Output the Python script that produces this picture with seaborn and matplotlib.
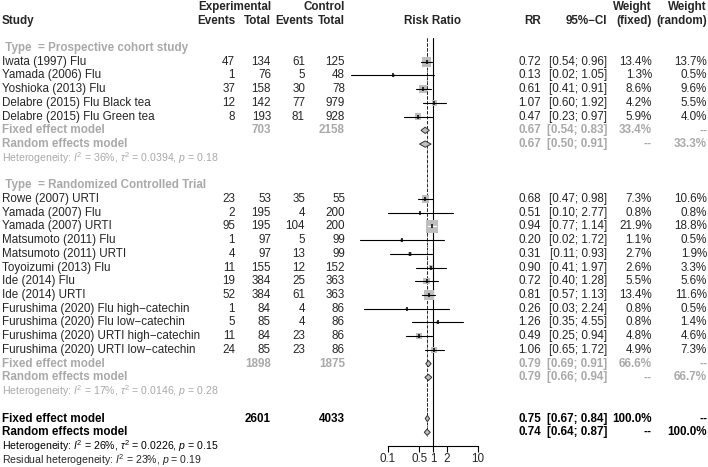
import matplotlib
matplotlib.use("Agg")
import matplotlib.pyplot as plt
import matplotlib.transforms as mtransforms
from matplotlib.patches import Polygon
import numpy as np
import pandas as pd
import seaborn as sns

# --- study level data ---
group_names = ["Prospective cohort study", "Randomized Controlled Trial"]
group = ["Prospective cohort study"] * 5 + ["Randomized Controlled Trial"] * 12
study = [
    "Iwata (1997) Flu",
    "Yamada (2006) Flu",
    "Yoshioka (2013) Flu",
    "Delabre (2015) Flu Black tea",
    "Delabre (2015) Flu Green tea",
    "Rowe (2007) URTI",
    "Yamada (2007) Flu",
    "Yamada (2007) URTI",
    "Matsumoto (2011) Flu",
    "Matsumoto (2011) URTI",
    "Toyoizumi (2013) Flu",
    "Ide (2014) Flu",
    "Ide (2014) URTI",
    "Furushima (2020) Flu high\u2212catechin",
    "Furushima (2020) Flu low\u2212catechin",
    "Furushima (2020) URTI high\u2212catechin",
    "Furushima (2020) URTI low\u2212catechin",
]
exp_events = [47, 1, 37, 12, 8, 23, 2, 95, 1, 4, 11, 19, 52, 1, 5, 11, 24]
exp_total = [134, 76, 158, 142, 193, 53, 195, 195, 97, 97, 155, 384, 384, 84, 85, 84, 85]
ctrl_events = [61, 5, 30, 77, 81, 35, 4, 104, 5, 13, 12, 25, 61, 4, 4, 23, 23]
ctrl_total = [125, 48, 78, 979, 928, 55, 200, 200, 99, 99, 152, 363, 363, 86, 86, 86, 86]
rr = [0.72, 0.13, 0.61, 1.07, 0.47, 0.68, 0.51, 0.94, 0.20, 0.31, 0.90, 0.72, 0.81, 0.26, 1.26, 0.49, 1.06]
ci_lo = [0.54, 0.0152, 0.41, 0.60, 0.23, 0.47, 0.10, 0.77, 0.0243, 0.11, 0.41, 0.40, 0.57, 0.0292, 0.35, 0.25, 0.65]
ci_hi = [0.96, 1.05, 0.91, 1.92, 0.97, 0.98, 2.77, 1.14, 1.72, 0.93, 1.97, 1.28, 1.13, 2.24, 4.55, 0.94, 1.72]
w_fixed = [13.4, 1.3, 8.6, 4.2, 5.9, 7.3, 0.8, 21.9, 1.1, 2.7, 2.6, 5.5, 13.4, 0.8, 0.8, 4.8, 4.9]
w_random = [13.7, 0.5, 9.6, 5.5, 4.0, 10.6, 0.8, 18.8, 0.5, 1.9, 3.3, 5.6, 11.6, 0.5, 1.4, 4.6, 7.3]

# --- subgroup summaries ---
sub_exp_total = [703, 1898]
sub_ctrl_total = [2158, 1875]
sub_fixed = [(0.67, 0.54, 0.83), (0.79, 0.69, 0.91)]
sub_random = [(0.67, 0.50, 0.91), (0.79, 0.66, 0.94)]
sub_w_fixed = [33.4, 66.6]
sub_w_random = [33.3, 66.7]
sub_het = [(36, "0.0394", "0.18"), (17, "0.0146", "0.28")]

# --- overall ---
all_exp_total = 2601
all_ctrl_total = 4033
all_fixed = (0.75, 0.67, 0.84)
all_random = (0.74, 0.64, 0.87)
all_het = (26, "0.0226", "0.15")
resid_het = (23, "0.19")

x_ticks = [0.1, 0.5, 1, 2, 10]
x_ticklabels = ["0.1", "0.5", "1", "2", "10"]

GREY_TXT = "#A9A9A9"
GREY_BOX = "#BEBEBE"
DASH = "--"

sns.set_style("white")
plt.rcParams["font.family"] = ["Liberation Sans", "DejaVu Sans"]
plt.rcParams["mathtext.fontset"] = "custom"
plt.rcParams["mathtext.rm"] = "Liberation Sans"
plt.rcParams["mathtext.it"] = "Liberation Sans:italic"
plt.rcParams["mathtext.bf"] = "Liberation Sans:bold"

W, H = 708, 467
FS = 8.35
FS_HET = 7.6
TOP_PX, BOT_PX = 38.4, 446.0
ROW_TOP, ROW_BOT = -0.7, 29.0

fig = plt.figure(figsize=(W / 100, H / 100), dpi=100)
ax = fig.add_axes([388 / W, 1 - BOT_PX / H, 90 / W, (BOT_PX - TOP_PX) / H])

# row layout
study_row = [0] * len(study)
label_row, fixed_row, random_row, het_row = [], [], [], []
r = 0
for g in group_names:
    label_row.append(r)
    r += 1
    for i, gg in enumerate(group):
        if gg == g:
            study_row[i] = r
            r += 1
    fixed_row.append(r)
    random_row.append(r + 1)
    het_row.append(r + 2)
    r += 4
all_fixed_row, all_random_row, all_het_row, resid_row = r, r + 1, r + 2, r + 3

df = pd.DataFrame(
    {"study": study, "rr": rr, "lo": ci_lo, "hi": ci_hi, "w": w_fixed, "row": study_row}
)

# squares, area proportional to fixed weight
s_max = 80
wmin, wmax = min(w_fixed), max(w_fixed)
sns.scatterplot(
    data=df, x="rr", y="row", size="w",
    sizes=(s_max * wmin / wmax, s_max), size_norm=(wmin, wmax),
    marker="s", color=GREY_BOX, linewidth=0, legend=False, ax=ax,
    clip_on=False, zorder=2,
)

# confidence intervals (white when hidden inside the square)
for _, d in df.iterrows():
    half = 12.4 * np.sqrt(d.w / wmax) / 2 / 45
    inside = (np.log10(d.hi / d.rr) <= half) and (np.log10(d.rr / d.lo) <= half)
    ax.plot([d.lo, d.hi], [d.row, d.row], color="white" if inside else "black",
            lw=0.8, clip_on=False, zorder=3)
ax.plot(df["rr"], df["row"], ls="none", marker="|", ms=3, mew=1.1,
        color="black", clip_on=False, zorder=4)


def diamond(est, lo, hi, y, h=0.23):
    ax.add_patch(Polygon([(lo, y), (est, y - h), (hi, y), (est, y + h)], closed=True,
                         fc=GREY_BOX, ec="#333333", lw=0.7, clip_on=False, zorder=3))


for k in range(len(group_names)):
    diamond(*sub_fixed[k], fixed_row[k])
    diamond(*sub_random[k], random_row[k])
diamond(*all_fixed, all_fixed_row)
diamond(*all_random, all_random_row)

ax.axvline(1, color="black", lw=0.8, zorder=1)
ax.plot([all_fixed[0]] * 2, [ROW_TOP, all_random_row + 0.3], color="#222222", lw=0.7,
        ls=(0, (3, 2)), zorder=1, clip_on=False)
ax.plot([all_random[0]] * 2, [ROW_TOP, all_random_row + 0.3], color="#222222", lw=0.6,
        ls=(0, (1, 2)), zorder=1, clip_on=False)

ax.set_xscale("log")
ax.set_xlim(0.1, 10)
ax.set_ylim(ROW_BOT, ROW_TOP)
ax.set_xticks(x_ticks)
ax.set_xticklabels(x_ticklabels)
ax.minorticks_off()
ax.set_yticks([])
ax.set_xlabel("")
ax.set_ylabel("")
for side in ["left", "right", "top"]:
    ax.spines[side].set_visible(False)
ax.spines["bottom"].set_color("black")
ax.spines["bottom"].set_linewidth(0.8)
ax.tick_params(axis="x", direction="out", length=4, width=0.8, color="black",
               labelsize=FS, pad=1, bottom=True)
ax.patch.set_alpha(0)

# --- text table ---
trans = mtransforms.blended_transform_factory(fig.transFigure, ax.transData)


def put(xpx, row, s, ha="right", size=FS, **kw):
    ax.text(xpx / W, row, s, transform=trans, ha=ha, va="center", fontsize=size,
            clip_on=False, **kw)


X_STUDY, X_EE, X_ET, X_CE, X_CT = 2, 235, 271, 305, 345
X_RR, X_CI, X_WF, X_WR = 541, 607, 652, 707

hdr = dict(fontweight="bold")
put(X_ET, -3, "Experimental", **hdr)
put(X_CT, -3, "Control", **hdr)
put(X_WF, -3, "Weight", **hdr)
put(X_WR, -3, "Weight", **hdr)
put(X_STUDY, -2, "Study", ha="left", **hdr)
put(X_EE + 1, -2, "Events", **hdr)
put(X_ET, -2, "Total", **hdr)
put(X_CE + 8, -2, "Events", **hdr)
put(X_CT, -2, "Total", **hdr)
put(433, -2, "Risk Ratio", ha="center", **hdr)
put(X_RR, -2, "RR", **hdr)
put(X_CI, -2, "95%\u2212CI", **hdr)
put(X_WF, -2, "(fixed)", **hdr)
put(X_WR, -2, "(random)", **hdr)

for i in range(len(study)):
    y = study_row[i]
    put(X_STUDY, y, study[i], ha="left")
    put(X_EE, y, str(exp_events[i]))
    put(X_ET, y, str(exp_total[i]))
    put(X_CE, y, str(ctrl_events[i]))
    put(X_CT, y, str(ctrl_total[i]))
    put(X_RR, y, f"{rr[i]:.2f}")
    put(X_CI, y, f"[{ci_lo[i]:.2f}; {ci_hi[i]:.2f}]")
    put(X_WF, y, f"{w_fixed[i]:.1f}%")
    put(X_WR, y, f"{w_random[i]:.1f}%")


def summary_rows(yf, yr, tot_e, tot_c, fx, rd, wf, wr, color, het, het_color):
    b = dict(fontweight="bold", color=color)
    put(X_STUDY, yf, "Fixed effect model", ha="left", **b)
    put(X_STUDY, yr, "Random effects model", ha="left", **b)
    put(X_ET, yf, str(tot_e), **b)
    put(X_CT, yf, str(tot_c), **b)
    for y, (est, lo, hi) in [(yf, fx), (yr, rd)]:
        put(X_RR, y, f"{est:.2f}", **b)
        put(X_CI, y, f"[{lo:.2f}; {hi:.2f}]", **b)
    put(X_WF, yf, wf, **b)
    put(X_WR, yf, DASH, **b)
    put(X_WF, yr, DASH, **b)
    put(X_WR, yr, wr, **b)
    i2, tau2, p = het
    put(X_STUDY, yr + 1,
        rf"Heterogeneity: $I^2$ = {i2}%, $\tau^2$ = {tau2}, $p$ = {p}",
        ha="left", size=FS_HET, color=het_color)


for k, g in enumerate(group_names):
    put(X_STUDY, label_row[k], f" Type  = {g}", ha="left", fontweight="bold",
        color=GREY_TXT)
    summary_rows(fixed_row[k], random_row[k], sub_exp_total[k], sub_ctrl_total[k],
                 sub_fixed[k], sub_random[k], f"{sub_w_fixed[k]:.1f}%",
                 f"{sub_w_random[k]:.1f}%", GREY_TXT, sub_het[k], GREY_TXT)

summary_rows(all_fixed_row, all_random_row, all_exp_total, all_ctrl_total,
             all_fixed, all_random, "100.0%", "100.0%", "black", all_het, "black")
put(X_STUDY, resid_row,
    rf"Residual heterogeneity: $I^2$ = {resid_het[0]}%, $p$ = {resid_het[1]}",
    ha="left", size=FS_HET)

fig.savefig("out.png", dpi=100, facecolor="white")
